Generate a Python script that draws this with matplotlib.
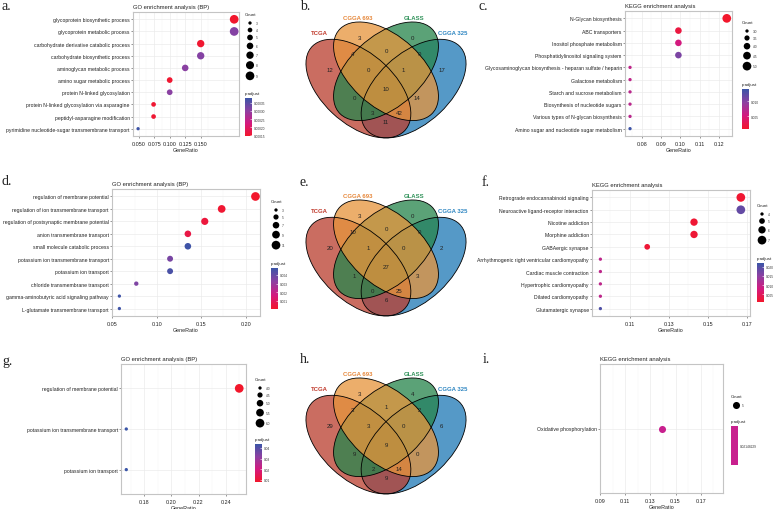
import matplotlib
matplotlib.use("Agg")
import matplotlib.pyplot as plt
from matplotlib.colors import LinearSegmentedColormap, Normalize
from matplotlib.cm import ScalarMappable
from matplotlib.patches import Ellipse
import numpy as np

plt.rcParams['font.family'] = ['Liberation Sans', 'DejaVu Sans']

# ---- data -------------------------------------------------------------
a_terms = ['glycoprotein biosynthetic process', 'glycoprotein metabolic process',
           'carbohydrate derivative catabolic process', 'carbohydrate biosynthetic process',
           'aminoglycan metabolic process', 'amino sugar metabolic process',
           'protein N-linked glycosylation', 'protein N-linked glycosylation via asparagine',
           'peptidyl-asparagine modification',
           'pyrimidine nucleotide-sugar transmembrane transport']
a_ratio = [0.204, 0.204, 0.150, 0.150, 0.125, 0.100, 0.100, 0.074, 0.074, 0.049]
a_count = [9, 9, 7, 7, 6, 5, 5, 4, 4, 3]
a_padj = [0.000146, 0.000310, 0.000150, 0.000310, 0.000305, 0.000150, 0.000305,
          0.000152, 0.000152, 0.000378]

c_terms = ['N-Glycan biosynthesis', 'ABC transporters', 'Inositol phosphate metabolism',
           'Phosphatidylinositol signaling system',
           'Glycosaminoglycan biosynthesis - heparan sulfate / heparin',
           'Galactose metabolism', 'Starch and sucrose metabolism',
           'Biosynthesis of nucleotide sugars', 'Various types of N-glycan biosynthesis',
           'Amino sugar and nucleotide sugar metabolism']
c_ratio = [0.124, 0.099, 0.099, 0.099, 0.074, 0.074, 0.074, 0.074, 0.074, 0.074]
c_count = [5, 4, 4, 4, 3, 3, 3, 3, 3, 3]
c_padj = [0.0008, 0.0018, 0.0052, 0.0105, 0.0065, 0.0065, 0.0068, 0.0068, 0.0068, 0.0138]

d_terms = ['regulation of membrane potential', 'regulation of ion transmembrane transport',
           'regulation of postsynaptic membrane potential', 'anion transmembrane transport',
           'small molecule catabolic process', 'potassium ion transmembrane transport',
           'potassium ion transport', 'chloride transmembrane transport',
           'gamma-aminobutyric acid signaling pathway', 'L-glutamate transmembrane transport']
d_ratio = [0.211, 0.173, 0.154, 0.135, 0.135, 0.115, 0.115, 0.077, 0.058, 0.058]
d_count = [11, 9, 8, 7, 7, 6, 6, 4, 3, 3]
d_padj = [0.0001, 0.0002, 0.0004, 0.0006, 0.0047, 0.0036, 0.0045, 0.0035, 0.0047, 0.0047]

f_terms = ['Retrograde endocannabinoid signaling', 'Neuroactive ligand-receptor interaction',
           'Nicotine addiction', 'Morphine addiction', 'GABAergic synapse',
           'Arrhythmogenic right ventricular cardiomyopathy', 'Cardiac muscle contraction',
           'Hypertrophic cardiomyopathy', 'Dilated cardiomyopathy', 'Glutamatergic synapse']
f_ratio = [0.167, 0.167, 0.143, 0.143, 0.119, 0.095, 0.095, 0.095, 0.095, 0.095]
f_count = [7, 7, 6, 6, 5, 4, 4, 4, 4, 4]
f_padj = [0.0012, 0.0185, 0.0014, 0.0015, 0.0016, 0.0102, 0.0102, 0.0102, 0.0102, 0.0205]

g_terms = ['regulation of membrane potential', 'potassium ion transmembrane transport',
           'potassium ion transport']
g_ratio = [0.250, 0.1667, 0.1667]
g_count = [6, 4, 4]
g_padj = [0.0082, 0.0436, 0.0436]

i_terms = ['Oxidative phosphorylation']
i_ratio = [0.1389]
i_count = [5]
i_padj_label = '0.02148229'

venn_sets = ['TCGA', 'CGGA 693', 'GLASS', 'CGGA 325']
venn_regions = ['A', 'B', 'C', 'D', 'AB', 'BC', 'CD', 'ABC', 'BCD', 'ABCD',
                'AC', 'ACD', 'ABD', 'BD', 'AD']
b_counts = [12, 3, 0, 17, 4, 0, 0, 0, 1, 10, 0, 3, 42, 14, 11]
e_counts = [20, 3, 0, 2, 10, 0, 0, 1, 0, 27, 1, 0, 25, 3, 6]
h_counts = [29, 3, 4, 6, 3, 1, 2, 3, 0, 9, 9, 2, 14, 0, 9]

# ---- layout helpers ------------------------------------------------------
W, H = 778, 510
fig = plt.figure(figsize=(W / 100, H / 100), dpi=100)

def rect(x0, y0, x1, y1):
    return [x0 / W, 1 - y1 / H, (x1 - x0) / W, (y1 - y0) / H]

ov = fig.add_axes([0, 0, 1, 1])
ov.set_xlim(0, W)
ov.set_ylim(H, 0)
ov.axis('off')

cmap = LinearSegmentedColormap.from_list(
    'padj', ['#F2172B', '#D4197E', '#8D40A2', '#3A55A7'])

def size_px(c, cmin, cmax, dmin=3.3, dmax=8.7):
    c = np.asarray(c, float)
    if cmax > cmin:
        t = (c - cmin) / (cmax - cmin)
    else:
        t = np.full_like(c, 0.6)
    return np.sqrt(dmin ** 2 + (dmax ** 2 - dmin ** 2) * t)

def pts2(d):
    return (d * 0.72) ** 2

def dot_panel(box, terms, ratio, count, padj, xlim, major, labels, minor,
              title, prange, crange, colors=None):
    ax = fig.add_axes(rect(*box))
    n = len(terms)
    yy = np.arange(n, 0, -1)
    ax.set_xlim(*xlim)
    ax.set_ylim(0.4, n + 0.6)
    ax.set_xticks(major)
    ax.set_xticklabels(labels)
    ax.set_xticks(minor, minor=True)
    ax.set_yticks(yy)
    ax.set_yticklabels(terms)
    ax.grid(True, which='major', color='#EBEBEB', lw=0.5)
    ax.grid(True, which='minor', axis='x', color='#F3F3F3', lw=0.35)
    ax.set_axisbelow(True)
    d = size_px(count, *crange)
    if colors is None:
        ax.scatter(ratio, yy, s=pts2(d), c=padj, cmap=cmap, vmin=prange[0],
                   vmax=prange[1], linewidths=0, zorder=3)
    else:
        ax.scatter(ratio, yy, s=pts2(d), c=colors, linewidths=0, zorder=3)
    for sp in ax.spines.values():
        sp.set_color('#C4C4C4')
        sp.set_linewidth(0.8)
    ax.tick_params(which='major', length=1.5, width=0.4, color='#444444',
                   labelcolor='#222222', pad=0.8)
    ax.tick_params(axis='y', labelsize=3.68)
    ax.tick_params(axis='x', labelsize=3.9, pad=2.2)
    ax.tick_params(which='minor', length=0)
    ax.set_xlabel('GeneRatio', fontsize=3.9, labelpad=0.8, color='#222222')
    ax.set_title(title, fontsize=4.2, loc='left', pad=3, color='#222222')
    return ax

def count_legend(x, y, counts, crange, labels):
    ov.text(x, y, 'Count', fontsize=3.2, va='center', ha='left', color='#222222')
    d = size_px(counts, *crange)
    ys = [y + 9]
    for k in range(1, len(counts)):
        ys.append(ys[-1] + max(7, (d[k - 1] + d[k]) / 2 + 2.3))
    ov.scatter([x + 5] * len(counts), ys, s=pts2(d), c='black', linewidths=0)
    for yv, lab in zip(ys, labels):
        ov.text(x + 11, yv, lab, fontsize=2.3, va='center', color='#333333')

def padj_bar(x0, y0, x1, y1, prange, ticks, labels):
    ov.text(x0, y0 - 5, 'p.adjust', fontsize=3.2, va='center', ha='left', color='#222222')
    cax = fig.add_axes(rect(x0, y0, x1, y1))
    sm = ScalarMappable(norm=Normalize(*prange), cmap=cmap)
    cb = fig.colorbar(sm, cax=cax)
    cb.outline.set_visible(False)
    cb.set_ticks(ticks)
    cb.set_ticklabels(labels)
    cax.tick_params(length=1.2, width=0.4, color='white', direction='in',
                    labelsize=2.3, pad=1.5, labelcolor='#333333')

def venn_panel(dy, counts):
    # unit square: x 294..478 px, y (-2..171) + dy px
    ax = fig.add_axes(rect(294, -2.1 + dy, 478, 170.9 + dy))
    ax.set_xlim(0, 1)
    ax.set_ylim(0, 1)
    ax.axis('off')
    fills = {'A': '#BA3F30', 'B': '#E6953D', 'C': '#27854C', 'D': '#2079B6'}
    shapes = {'A': (0.35, 0.47, -45), 'B': (0.50, 0.57, -45),
              'C': (0.50, 0.57, 45), 'D': (0.65, 0.47, 45)}
    for key in ['D', 'A', 'C', 'B']:
        cx, cy, ang = shapes[key]
        ax.add_patch(Ellipse((cx, cy), 0.70, 0.40, angle=ang, facecolor=fills[key],
                             alpha=0.76, edgecolor='none', clip_on=False))
    for key in ['A', 'B', 'C', 'D']:
        cx, cy, ang = shapes[key]
        ax.add_patch(Ellipse((cx, cy), 0.70, 0.40, angle=ang, facecolor='none',
                             edgecolor='black', lw=0.6, clip_on=False))
    pos = {'A': (0.198, 0.578), 'D': (0.802, 0.578),
           'B': (0.356, 0.768), 'C': (0.644, 0.768),
           'AB': (0.318, 0.670), 'CD': (0.682, 0.670), 'BC': (0.50, 0.693),
           'ABC': (0.405, 0.578), 'BCD': (0.595, 0.578), 'ABCD': (0.50, 0.468),
           'AC': (0.329, 0.416), 'BD': (0.671, 0.416),
           'ACD': (0.429, 0.329), 'ABD': (0.571, 0.329), 'AD': (0.50, 0.277)}
    for reg, val in zip(venn_regions, counts):
        ax.text(*pos[reg], str(val), fontsize=4.4, ha='center', va='center', color='#222222')
    lab_pos = [(0.136, 0.797), (0.348, 0.880), (0.652, 0.880), (0.864, 0.797)]
    lab_col = ['#C0392B', '#E6873A', '#2E9158', '#2E86C1']
    for name, (lx, ly), col in zip(venn_sets, lab_pos, lab_col):
        ax.text(lx, ly, name, fontsize=4.3, fontweight='bold', ha='center',
                va='center', color=col, clip_on=False)

# ---- panel letters -----------------------------------------------------
for letter, x, y in [('a.', 2, 7), ('b.', 300, 7), ('c.', 479, 7),
                     ('d.', 2, 182), ('e.', 300, 183), ('f.', 482, 183),
                     ('g.', 2, 362), ('h.', 300, 360), ('i.', 483, 360)]:
    ov.text(x, y, letter, fontsize=10, family='Liberation Serif', va='center',
            ha='left', color='#222222')

# ---- a ----------------------------------------------------------------
dot_panel((133, 13, 239, 137), a_terms, a_ratio, a_count, a_padj,
          (0.0408, 0.2118), [0.050, 0.075, 0.100, 0.125, 0.150],
          ['0.050', '0.075', '0.100', '0.125', '0.150'],
          np.arange(0.0625, 0.21, 0.025), 'GO enrichment analysis (BP)',
          (0.000144, 0.000381), (3, 9))
count_legend(245, 15, [3, 4, 5, 6, 7, 8, 9], (3, 9), ['3', '4', '5', '6', '7', '8', '9'])
padj_bar(245, 99, 252, 137, (0.000144, 0.000381),
         [0.00015, 0.0002, 0.00025, 0.0003, 0.00035],
         ['0.00015', '0.00020', '0.00025', '0.00030', '0.00035'])

# ---- c ----------------------------------------------------------------
dot_panel((625, 12, 732, 137), c_terms, c_ratio, c_count, c_padj,
          (0.0714, 0.1267), [0.08, 0.09, 0.10, 0.11, 0.12],
          ['0.08', '0.09', '0.10', '0.11', '0.12'],
          np.arange(0.075, 0.13, 0.01), 'KEGG enrichment analysis',
          (0.0007, 0.014), (3, 5))
count_legend(742, 23, [3.0, 3.5, 4.0, 4.5, 5.0], (3, 5), ['3.0', '3.5', '4.0', '4.5', '5.0'])
padj_bar(742, 90, 749, 130, (0.0007, 0.014), [0.005, 0.010], ['0.005', '0.010'])

# ---- d ----------------------------------------------------------------
dot_panel((112, 190, 260, 317), d_terms, d_ratio, d_count, d_padj,
          (0.0497, 0.2161), [0.05, 0.10, 0.15, 0.20],
          ['0.05', '0.10', '0.15', '0.20'],
          np.arange(0.075, 0.22, 0.05), 'GO enrichment analysis (BP)',
          (0.00007, 0.0048), (3, 11))
count_legend(271, 202, [3, 5, 7, 9, 11], (3, 11), ['3', '5', '7', '9', '11'])
padj_bar(271, 269, 278, 310, (0.00007, 0.0048), [0.001, 0.002, 0.003, 0.004],
         ['0.001', '0.002', '0.003', '0.004'])

# ---- f ----------------------------------------------------------------
dot_panel((592, 191, 750, 317), f_terms, f_ratio, f_count, f_padj,
          (0.0907, 0.1717), [0.11, 0.13, 0.15, 0.17],
          ['0.11', '0.13', '0.15', '0.17'],
          np.arange(0.10, 0.171, 0.02), 'KEGG enrichment analysis',
          (0.0006, 0.0222), (4, 7))
count_legend(757, 206, [4, 5, 6, 7], (4, 7), ['4', '5', '6', '7'])
padj_bar(757, 264, 764, 303, (0.0006, 0.0222), [0.005, 0.010, 0.015, 0.020],
         ['0.005', '0.010', '0.015', '0.020'])

# ---- g ----------------------------------------------------------------
dot_panel((121, 365, 246, 495), g_terms, g_ratio, g_count, g_padj,
          (0.1628, 0.255), [0.18, 0.20, 0.22, 0.24],
          ['0.18', '0.20', '0.22', '0.24'],
          np.arange(0.17, 0.255, 0.02), 'GO enrichment analysis (BP)',
          (0.0081, 0.0437), (4, 6))
count_legend(255, 380, [4.0, 4.5, 5.0, 5.5, 6.0], (4, 6), ['4.0', '4.5', '5.0', '5.5', '6.0'])
padj_bar(255, 445, 262, 483, (0.0081, 0.0437), [0.01, 0.02, 0.03, 0.04],
         ['0.01', '0.02', '0.03', '0.04'])

# ---- i ----------------------------------------------------------------
i_color = '#C8208E'
dot_panel((600, 365, 723, 494), i_terms, i_ratio, i_count, None,
          (0.09, 0.1877), [0.09, 0.11, 0.13, 0.15, 0.17],
          ['0.09', '0.11', '0.13', '0.15', '0.17'],
          np.arange(0.10, 0.19, 0.02), 'KEGG enrichment analysis',
          None, (5, 5), colors=[i_color])
count_legend(731, 397, [5], (5, 5), ['5'])
ov.text(731, 422, 'p.adjust', fontsize=3.2, va='center', ha='left', color='#222222')
iax = fig.add_axes(rect(731, 427, 738, 466))
iax.set_facecolor(i_color)
iax.set_xticks([])
iax.set_yticks([0.5])
iax.set_ylim(0, 1)
iax.yaxis.tick_right()
iax.set_yticklabels([i_padj_label])
iax.tick_params(length=0, labelsize=2.3, pad=1.5, labelcolor='#333333')
for sp in iax.spines.values():
    sp.set_visible(False)

# ---- venn diagrams ----------------------------------------------------
venn_panel(0, b_counts)
venn_panel(178, e_counts)
venn_panel(356, h_counts)

fig.savefig('out.png', dpi=100)
